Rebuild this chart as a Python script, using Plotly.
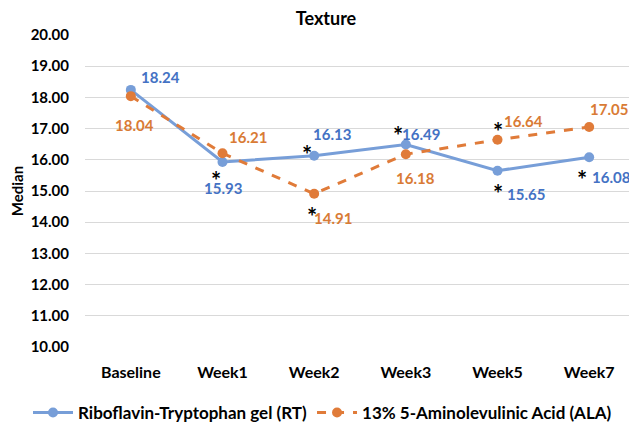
import plotly.graph_objects as go

categories = ["Baseline", "Week1", "Week2", "Week3", "Week5", "Week7"]
rt_values = [18.24, 15.93, 16.13, 16.49, 15.65, 16.08]
ala_values = [18.04, 16.21, 14.91, 16.18, 16.64, 17.05]
rt_name = "Riboflavin-Tryptophan gel (RT)"
ala_name = "13% 5-Aminolevulinic Acid (ALA)"
y_ticks = [10, 11, 12, 13, 14, 15, 16, 17, 18, 19, 20]

# label offsets (px) for data labels
rt_label_off = [(30, 13), (0, -26), (18, 22), (15, 11), (28, -23), (22, -20)]
ala_label_off = [(4, -29), (25, 16), (19, -24), (10, -24), (26, 19), (20, 18)]
# asterisks: (category index, series, dx, dy)
stars = [(1, "rt", -7, -14), (2, "rt", -7, 6), (2, "ala", -2, -18), (3, "rt", -8, 14),
         (4, "rt", 0, -18), (4, "ala", 0, 13), (5, "rt", -7, -17)]

RT_LINE = "#779ED8"
RT_TEXT = "#4472C4"
ALA_LINE = "#E07B39"
ALA_TEXT = "#D97B35"
FONT = "Lato"

# the page body adds an 8px offset; the figure is sized to compensate
OFF = 8
W, H = 637 - OFF, 426 - OFF
L, T, B = 85 - OFF, 35 - OFF, 79
PW, PH = W - L - 2, H - T - B

fig = go.Figure()
fig.add_trace(go.Scatter(x=categories, y=rt_values, name=rt_name, mode="lines+markers",
                         line=dict(color=RT_LINE, width=3), marker=dict(size=10, color=RT_LINE)))
fig.add_trace(go.Scatter(x=categories, y=ala_values, name=ala_name, mode="lines+markers",
                         line=dict(color=ALA_LINE, width=3, dash="dash"),
                         marker=dict(size=10, color=ALA_LINE)))

ann = []
for c, v, (dx, dy) in zip(categories, rt_values, rt_label_off):
    ann.append(dict(x=c, y=v, text=f"{v:.2f}", showarrow=False, xshift=dx, yshift=dy,
                    font=dict(family=FONT, size=15, color=RT_TEXT, weight="bold")))
for c, v, (dx, dy) in zip(categories, ala_values, ala_label_off):
    ann.append(dict(x=c, y=v, text=f"{v:.2f}", showarrow=False, xshift=dx, yshift=dy,
                    font=dict(family=FONT, size=15, color=ALA_TEXT, weight="bold")))
for i, s, dx, dy in stars:
    v = rt_values[i] if s == "rt" else ala_values[i]
    ann.append(dict(x=categories[i], y=v, text="*", showarrow=False, xshift=dx, yshift=dy - 5,
                    font=dict(family=FONT, size=24, color="black", weight="bold")))

fig.update_layout(
    width=W, height=H,
    margin=dict(l=L, r=2, t=T, b=B, autoexpand=False),
    paper_bgcolor="white", plot_bgcolor="white",
    title=dict(text="Texture", x=(326 - OFF) / W, xanchor="center", xref="container",
               y=1 - (19 - OFF) / H, yref="container", yanchor="middle",
               font=dict(family=FONT, size=18, color="black", weight="bold")),
    font=dict(family=FONT, color="black"),
    showlegend=True,
    legend=dict(orientation="h", x=(28 - 85) / PW, xanchor="left", xref="paper",
                y=(347 - 413) / PH, yref="paper", yanchor="middle",
                font=dict(family=FONT, size=17, color="black", weight="bold"),
                itemwidth=40, tracegroupgap=0),
    annotations=ann,
)
fig.update_xaxes(range=[-0.5, 5.5], showgrid=False, showline=False, ticks="", zeroline=False,
                 automargin=False, ticklabelstandoff=14,
                 tickfont=dict(family=FONT, size=16, color="black", weight="bold"))
fig.update_yaxes(range=[10, 20], tickvals=y_ticks, ticktext=[f"{t:.2f}" for t in y_ticks],
                 showgrid=True, gridcolor="#D9D9D9", gridwidth=1, zeroline=False, showline=False,
                 ticks="", ticklabelstandoff=15, automargin=False,
                 tickfont=dict(family=FONT, size=15, color="black", weight="bold"),
                 title=dict(text="Median", standoff=6,
                            font=dict(family=FONT, size=15, color="black", weight="bold")))

fig.write_html("out.html")
